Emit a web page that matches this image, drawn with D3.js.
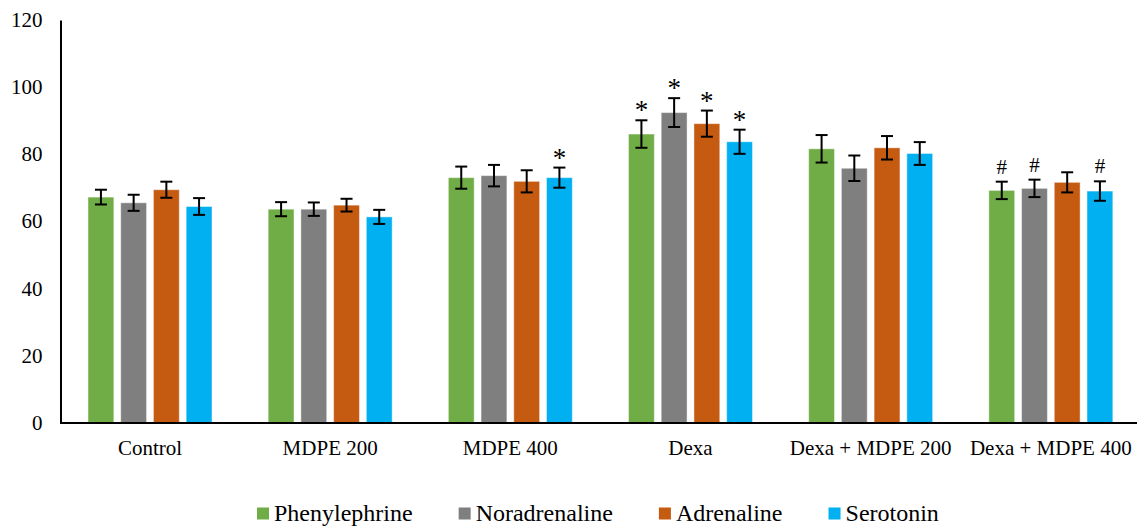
<!DOCTYPE html>
<html>
<head>
<meta charset="utf-8">
<script src="https://cdn.jsdelivr.net/npm/d3@7"></script>
<style>
  body { margin: 0; background: #fff; }
  text { font-family: "Liberation Serif", "Times New Roman", serif; fill: #000; }
</style>
</head>
<body>
<svg></svg>
<script>
var width = 1137,
    height = 527;

// data
var groups = ["Control", "MDPE 200", "MDPE 400", "Dexa", "Dexa + MDPE 200", "Dexa + MDPE 400"];
var series = ["Phenylephrine", "Noradrenaline", "Adrenaline", "Serotonin"];
var colors = ["#70AD47", "#7F7F7F", "#C55A11", "#00B0F0"];

var phenylephrine = [67.2, 63.6, 73.0, 86.0, 81.6, 69.2];
var noradrenaline = [65.5, 63.6, 73.6, 92.4, 75.8, 69.8];
var adrenaline    = [69.4, 64.8, 71.9, 89.1, 81.9, 71.6];
var serotonin     = [64.4, 61.3, 73.0, 83.7, 80.2, 69.0];

var phenylephrineErr = [2.2, 2.1, 3.3, 4.1, 4.1, 2.6];
var noradrenalineErr = [2.4, 2.0, 3.2, 4.3, 3.8, 2.6];
var adrenalineErr    = [2.4, 1.9, 3.3, 3.9, 3.5, 3.0];
var serotoninErr     = [2.5, 2.1, 3.0, 3.6, 3.4, 2.9];

// significance marks ("" = none)
var phenylephrineSig = ["", "", "", "*", "", "#"];
var noradrenalineSig = ["", "", "", "*", "", "#"];
var adrenalineSig    = ["", "", "", "*", "", ""];
var serotoninSig     = ["", "", "*", "*", "", "#"];

var yTicks = [0, 20, 40, 60, 80, 100, 120];

var values = [phenylephrine, noradrenaline, adrenaline, serotonin];
var errors = [phenylephrineErr, noradrenalineErr, adrenalineErr, serotoninErr];
var marks = [phenylephrineSig, noradrenalineSig, adrenalineSig, serotoninSig];

var rows = [];
groups.forEach(function (g, gi) {
    series.forEach(function (s, si) {
        rows.push({ group: g, series: s, si: si,
                    value: values[si][gi], err: errors[si][gi], mark: marks[si][gi] });
    });
});

var svg = d3.select("svg")
    .attr("width", width)
    .attr("height", height);

var x0 = d3.scaleBand()
    .domain(groups)
    .range([60, 1141])
    .padding(0);

var x1 = d3.scaleBand()
    .domain(series)
    .range([28, 152])
    .paddingInner(0.21);

var y = d3.scaleLinear()
    .domain([0, 120])
    .range([422.5, 20]);

// y axis: line and labels, no tick marks
var yAxis = svg.append("g")
    .attr("transform", "translate(60.5,0)")
    .call(d3.axisLeft(y).tickValues(yTicks).tickSize(0).tickPadding(18));
yAxis.attr("font-family", null);
yAxis.select(".domain").attr("stroke", "#000").attr("stroke-width", 2);
yAxis.selectAll("text")
    .style("font-family", "'Liberation Serif', 'Times New Roman', serif")
    .style("font-size", "21px");

// bars
var bar = svg.append("g")
    .selectAll("g")
    .data(rows)
    .enter()
    .append("g")
    .attr("transform", function (d) { return "translate(" + (x0(d.group) + x1(d.series)) + ",0)"; });

bar.append("rect")
    .attr("x", 0)
    .attr("y", function (d) { return y(d.value); })
    .attr("width", x1.bandwidth())
    .attr("height", function (d) { return y(0) - y(d.value); })
    .attr("fill", function (d) { return colors[d.si]; })
    .attr("stroke", "#fff")
    .attr("stroke-opacity", 0.45)
    .attr("stroke-width", 1);

// error bars
var cx = x1.bandwidth() / 2;
bar.append("line")
    .attr("x1", cx).attr("x2", cx)
    .attr("y1", function (d) { return y(d.value + d.err); })
    .attr("y2", function (d) { return y(d.value - d.err); })
    .attr("stroke", "#000").attr("stroke-width", 2);
bar.append("line")
    .attr("x1", cx - 6).attr("x2", cx + 6)
    .attr("y1", function (d) { return y(d.value + d.err); })
    .attr("y2", function (d) { return y(d.value + d.err); })
    .attr("stroke", "#000").attr("stroke-width", 2);
bar.append("line")
    .attr("x1", cx - 6).attr("x2", cx + 6)
    .attr("y1", function (d) { return y(d.value - d.err); })
    .attr("y2", function (d) { return y(d.value - d.err); })
    .attr("stroke", "#000").attr("stroke-width", 2);

// significance marks
bar.filter(function (d) { return d.mark !== ""; })
    .append("text")
    .attr("x", cx)
    .attr("y", function (d) { return y(d.value + d.err) - (d.mark === "*" ? 1 : 8); })
    .attr("text-anchor", "middle")
    .style("font-size", function (d) { return d.mark === "*" ? "27px" : "21px"; })
    .text(function (d) { return d.mark; });

// x axis line
svg.append("line")
    .attr("x1", 60).attr("x2", width)
    .attr("y1", y(0) + 0.5).attr("y2", y(0) + 0.5)
    .attr("stroke", "#000").attr("stroke-width", 2);

// group labels
svg.append("g")
    .selectAll("text")
    .data(groups)
    .enter()
    .append("text")
    .attr("x", function (d) { return x0(d) + 90; })
    .attr("y", 455)
    .attr("text-anchor", "middle")
    .style("font-size", "21px")
    .text(function (d) { return d; });

// legend
var legend = svg.append("g");
var lx = 257;
series.forEach(function (s, i) {
    var item = legend.append("g").attr("transform", "translate(" + lx + ",0)");
    item.append("rect")
        .attr("x", 0).attr("y", 507.5)
        .attr("width", 12).attr("height", 12)
        .attr("fill", colors[i]);
    var t = item.append("text")
        .attr("x", 17).attr("y", 521)
        .style("font-size", "24px")
        .text(s);
    lx += 17 + t.node().getComputedTextLength() + 46;
});
</script>
</body>
</html>
